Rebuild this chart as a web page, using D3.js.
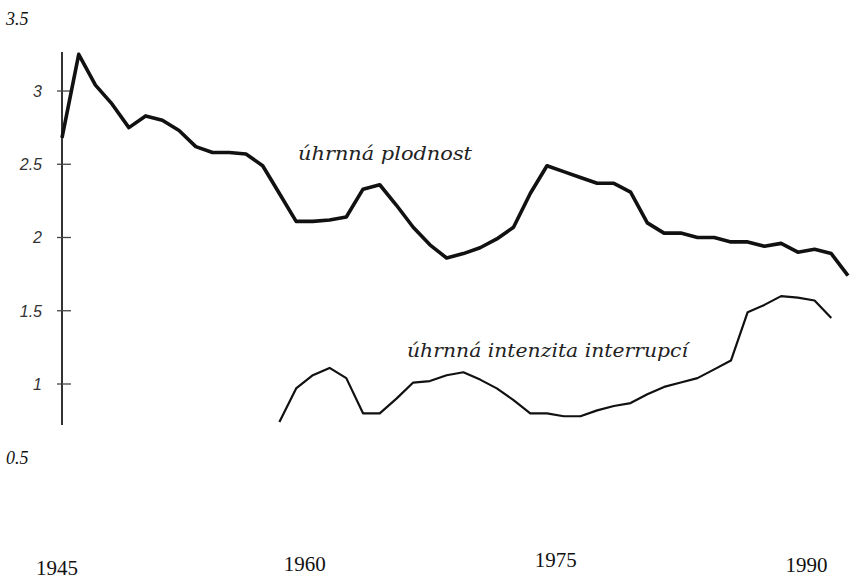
<!DOCTYPE html>
<html>
<head>
<meta charset="utf-8">
<script src="https://cdn.jsdelivr.net/npm/d3@7"></script>
<style>
  body { margin: 0; background: #fff; }
  svg { display: block; }
</style>
</head>
<body>
<div id="chart"></div>
<script>
// VARIABLES
const width = 850;
const height = 579;

// data: total fertility rate (úhrnná plodnost), 1945-1992
const fertYears = d3.range(1945, 1993);
const fertValues = [
    2.68, 3.25, 3.04, 2.91, 2.75, 2.83, 2.80, 2.73, 2.62, 2.58,
    2.58, 2.57, 2.49, 2.30, 2.11, 2.11, 2.12, 2.14, 2.33, 2.36,
    2.22, 2.07, 1.95, 1.86, 1.89, 1.93, 1.99, 2.07, 2.30, 2.49,
    2.45, 2.41, 2.37, 2.37, 2.31, 2.10, 2.03, 2.03, 2.00, 2.00,
    1.97, 1.97, 1.94, 1.96, 1.90, 1.92, 1.89, 1.74
];

// data: total abortion rate (úhrnná intenzita interrupcí), 1958-1991
const abortYears = d3.range(1958, 1992);
const abortValues = [
    0.74, 0.97, 1.06, 1.11, 1.04, 0.80, 0.80, 0.90, 1.01, 1.02,
    1.06, 1.08, 1.03, 0.97, 0.89, 0.80, 0.80, 0.78, 0.78, 0.82,
    0.85, 0.87, 0.93, 0.98, 1.01, 1.04, 1.10, 1.16, 1.49, 1.54,
    1.60, 1.59, 1.57, 1.45
];

// ticks
const yTicks = [1, 1.5, 2, 2.5, 3];
const yEndLabels = [3.5, 0.5];
const xTickYears = [1945, 1960, 1975, 1990];
const xTickLabels = ["1945", "1960", "1975", "1990"];
const seriesLabels = ["úhrnná plodnost", "úhrnná intenzita interrupcí"];

// define svg
const svg = d3.select("#chart")
    .append("svg")
        .attr("width", width)
        .attr("height", height)
        .attr("viewBox", [0, 0, width, height]);

// scales
const x = d3.scaleLinear()
    .domain([1945, 1992])
    .range([62, 848]);

const y = d3.scaleLinear()
    .domain([1, 3])
    .range([384, 91]);

// y axis line + ticks
svg.append("line")
    .attr("x1", x(1945)).attr("x2", x(1945))
    .attr("y1", 52).attr("y2", 425)
    .attr("stroke", "#333")
    .attr("stroke-width", 2);

svg.append("g")
    .selectAll("line")
    .data(yTicks)
    .enter()
    .append("line")
        .attr("x1", x(1945) - 5)
        .attr("x2", x(1945) + 9)
        .attr("y1", d => y(d))
        .attr("y2", d => y(d))
        .attr("stroke", "#444")
        .attr("stroke-width", 1.3);

svg.append("g")
    .selectAll("text")
    .data(yTicks)
    .enter()
    .append("text")
        .attr("x", 42)
        .attr("y", d => y(d))
        .attr("dy", "0.36em")
        .attr("text-anchor", "end")
        .attr("font-family", "'Liberation Sans', Arial, sans-serif")
        .attr("font-style", "italic")
        .attr("font-size", 16)
        .attr("fill", "#333")
        .text(d => d);

// 3.5 and 0.5 labels (serif, no ticks)
svg.append("g")
    .selectAll("text")
    .data(yEndLabels)
    .enter()
    .append("text")
        .attr("x", 6)
        .attr("y", d => y(d))
        .attr("dy", "0.4em")
        .attr("font-family", "'Liberation Serif', 'Times New Roman', serif")
        .attr("font-style", "italic")
        .attr("font-size", 18)
        .attr("fill", "#111")
        .text(d => d);

// x labels (slightly uneven baselines as in the scan)
const xLabelDy = [4, 0, -4, 1];
svg.append("g")
    .selectAll("text")
    .data(xTickYears)
    .enter()
    .append("text")
        .attr("x", (d, i) => x(d) - (i === 0 ? 5 : 8))
        .attr("y", (d, i) => 571 + xLabelDy[i])
        .attr("text-anchor", "middle")
        .attr("font-family", "'Liberation Serif', 'Times New Roman', serif")
        .attr("font-size", 21)
        .attr("fill", "#111")
        .text((d, i) => xTickLabels[i]);

// lines
const line = d3.line()
    .x(d => x(d[0]))
    .y(d => y(d[1]));

svg.append("path")
    .datum(fertYears.map((yr, i) => [yr, fertValues[i]]))
    .attr("d", line)
    .attr("fill", "none")
    .attr("stroke", "#111")
    .attr("stroke-width", 3.6)
    .attr("stroke-linejoin", "round");

svg.append("path")
    .datum(abortYears.map((yr, i) => [yr, abortValues[i]]))
    .attr("d", line)
    .attr("fill", "none")
    .attr("stroke", "#111")
    .attr("stroke-width", 2.2)
    .attr("stroke-linejoin", "round");

// series labels
svg.append("text")
    .attr("x", 298)
    .attr("y", 160)
    .attr("font-family", "'DejaVu Serif', serif")
    .attr("font-style", "italic")
    .attr("font-size", 18)
    .attr("fill", "#222")
    .attr("textLength", 174)
    .attr("lengthAdjust", "spacingAndGlyphs")
    .text(seriesLabels[0]);

svg.append("text")
    .attr("x", 407)
    .attr("y", 357)
    .attr("font-family", "'DejaVu Serif', serif")
    .attr("font-style", "italic")
    .attr("font-size", 18)
    .attr("fill", "#222")
    .attr("textLength", 281)
    .attr("lengthAdjust", "spacingAndGlyphs")
    .text(seriesLabels[1]);
</script>
</body>
</html>
